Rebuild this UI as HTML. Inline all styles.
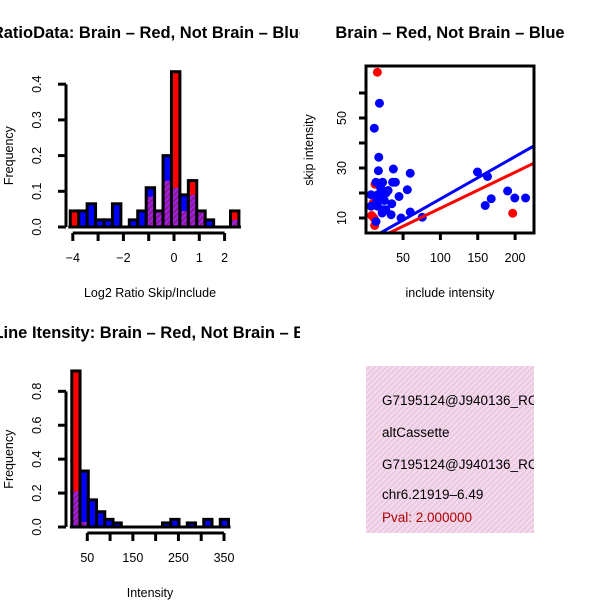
<!DOCTYPE html>
<html><head><meta charset="utf-8"><style>
body{margin:0;background:#fff;width:600px;height:600px;overflow:hidden}
svg{font-family:"Liberation Sans",sans-serif}
</style></head><body>
<svg id="s" width="600" height="600" xmlns="http://www.w3.org/2000/svg">
<defs>
<pattern id="purp" width="4" height="4" patternUnits="userSpaceOnUse" patternTransform="rotate(45)"><rect width="4" height="4" fill="#a020f0"/><rect width="2" height="4" fill="#8b1a8b"/></pattern>
<pattern id="pink" width="4" height="4" patternUnits="userSpaceOnUse" patternTransform="rotate(45)"><rect width="4" height="4" fill="#fad4f4"/><rect width="1.2" height="4" fill="#d8ccc8"/></pattern>
<clipPath id="sc"><rect x="366" y="66" width="168" height="167"/></clipPath>
<clipPath id="left"><rect x="0" y="0" width="300" height="600"/></clipPath>
<clipPath id="bx"><rect x="366" y="366" width="168" height="167"/></clipPath>
</defs>
<g font-weight="bold" font-size="16.5">
<g clip-path="url(#left)">
<text x="150" y="38" text-anchor="middle">RatioData: Brain – Red, Not Brain – Blue</text>
<text x="329" y="338" text-anchor="end">Junction Line Itensity: Brain – Red, Not Brain – Blue</text>
</g>
<text x="450" y="38" text-anchor="middle">Brain – Red, Not Brain – Blue</text>
</g>
<g id="h1"></g>
<g id="h2"></g>
<g id="sp"></g>
<g>
<rect x="366" y="366" width="168" height="167" fill="url(#pink)"/>
<g font-size="13.5" clip-path="url(#bx)">
<text x="382" y="405">G7195124@J940136_RC</text>
<text x="382" y="437">altCassette</text>
<text x="382" y="469">G7195124@J940136_RC</text>
<text x="382" y="499">chr6.21919–6.49</text>
<text x="382" y="522" fill="#b00000">Pval: 2.000000</text>
</g></g>
</svg>
<script>
// Ratio histogram data
const h1Red=[0.045,0,0,0,0,0,0,0,0,0.085,0.045,0.13,0.435,0.045,0.13,0.045,0,0,0,0.045];
const h1Blue=[0,0.045,0.065,0.02,0.02,0.065,0,0.02,0.045,0.11,0.045,0.2,0.11,0.09,0.09,0.045,0.02,0,0,0.02];
const h1XTicks=[-4,-3,-2,-1,0,1,2];
const h1XLabels=["−4","","−2","","0","1","2"];
const h1YTicks=[0,0.1,0.2,0.3,0.4];
// Intensity histogram data
const h2Red=[0.92,0.03,0,0,0,0,0,0,0,0,0,0,0,0,0,0,0,0,0.01];
const h2Blue=[0.21,0.33,0.16,0.09,0.045,0.024,0,0,0,0,0,0.024,0.045,0,0.024,0,0.045,0,0.045];
const h2XTicks=[50,100,150,200,250,300,350];
const h2XLabels=["50","","150","","250","","350"];
const h2YTicks=[0,0.2,0.4,0.6,0.8];
// Scatter data
const redX=[15.6,196.8,12.5,10,11,12,8];
const redY=[68.3,11.9,23.5,16,10,7,11];
const blueX=[18.4,11.5,17.5,17,37,59.6,13.8,22.7,36,39.7,7.2,16.1,20.6,27.3,44.6,55.7,34.9,7.2,16,24,27,34,47.4,59.6,75.7,13.8,149.6,163,160,168,190,199.6,214,20,15,25,30,22];
const blueY=[55.9,45.9,34.3,28.9,29.6,27.9,24.3,24.3,24.3,24.3,19.3,19.3,20,20,18.6,21.3,15.7,14.7,14.7,13.3,13.3,11.3,10,12.4,10.3,8.6,28.4,26.6,15,17.7,20.8,18,18,22,17,17,21,12];
const blueFit=[0.68,0.1694];
const redFit=[-0.5,0.144];
const spXTicks=[50,100,150,200];
const spXLabels=["50","100","150","200"];
const spYTicks=[10,20,30,40,50,60];
const spYLabels=["10","","30","","50",""];

const NS="http://www.w3.org/2000/svg";
function mk(p,t,a){const e=document.createElementNS(NS,t);for(const k in a)e.setAttribute(k,a[k]);p.appendChild(e);return e;}

function hist(g,red,blue,x0,bw,xs,ys,base,xT,xL,yT,axY,xlab,cx){
  for(let i=0;i<red.length;i++){
    const r=red[i],b=blue[i],m=Math.max(r,b);
    if(m<=0)continue;
    const xa=xs(x0+i*bw),xb=xs(x0+(i+1)*bw);
    if(r>b){const e=mk(g,'rect',{x:xa,y:ys(r),width:xb-xa,height:ys(0)-ys(r),fill:'#f00'});
      }
    else{const e=mk(g,'rect',{x:xa,y:ys(b),width:xb-xa,height:ys(0)-ys(b),fill:'#00f'});
      }
    const mn=Math.min(r,b);
    if(mn>0){const e=mk(g,'rect',{x:xa,y:ys(mn),width:xb-xa,height:ys(0)-ys(mn),fill:'url(#purp)'});
      }
    const o=mk(g,'rect',{x:xa,y:ys(m),width:xb-xa,height:ys(0)-ys(m),fill:'none',stroke:'#000','stroke-width':3});
    
  }
  mk(g,'line',{x1:xs(x0)-2,x2:xs(x0+red.length*bw)+2,y1:ys(0),y2:ys(0),stroke:'#000','stroke-width':3});
  const xa=mk(g,'g',{});
  mk(xa,'line',{x1:xs(xT[0]),x2:xs(xT[xT.length-1]),y1:base,y2:base,stroke:'#000','stroke-width':3});
  xT.forEach((t,i)=>{mk(xa,'line',{x1:xs(t),x2:xs(t),y1:base,y2:base+8,stroke:'#000','stroke-width':3});
    if(xL[i]){const e=mk(xa,'text',{x:xs(t),y:base+29,'text-anchor':'middle','font-size':12.5});e.textContent=xL[i];
    }});
  const xl=mk(g,'text',{x:cx,y:base+64,'text-anchor':'middle','font-size':12.5});xl.textContent=xlab;
  
  const ya=mk(g,'g',{});
  mk(ya,'line',{x1:axY,x2:axY,y1:ys(yT[0]),y2:ys(yT[yT.length-1]),stroke:'#000','stroke-width':3});
  yT.forEach(t=>{mk(ya,'line',{x1:axY-8,x2:axY,y1:ys(t),y2:ys(t),stroke:'#000','stroke-width':3});
    const e=mk(ya,'text',{x:axY-25,y:ys(t),'text-anchor':'middle','font-size':12.5,transform:`rotate(-90 ${axY-25} ${ys(t)})`});
    e.textContent=t.toFixed(1);});
  const mid=(ys(yT[0])+ys(yT[yT.length-1]))/2;
  const yl=mk(g,'text',{x:13,y:mid,'text-anchor':'middle','font-size':12.5,transform:`rotate(-90 13 ${mid})`});yl.textContent='Frequency';
  
}
const g1=document.getElementById('h1');
hist(g1,h1Red,h1Blue,-4.1,1/3,v=>174+v*25.3,v=>227-v*357,233,h1XTicks,h1XLabels,h1YTicks,66,'Log2 Ratio Skip/Include',150);
const g2=document.getElementById('h2');
hist(g2,h2Red,h2Blue,16,18.1,v=>64.5+v*0.4557,v=>527-v*169.6,533,h2XTicks,h2XLabels,h2YTicks,66,'Intensity',150);

const sp=document.getElementById('sp');
const sx=v=>365.7+v*0.747, sy=v=>243-v*2.5;
const pts=mk(sp,'g',{});
redX.forEach((x,i)=>{const c=mk(pts,'circle',{cx:sx(x),cy:sy(redY[i]),r:4.5,fill:'#f00'});
  });
blueX.forEach((x,i)=>{const c=mk(pts,'circle',{cx:sx(x),cy:sy(blueY[i]),r:4.5,fill:'#00f'});
  });
const cl=mk(sp,'g',{'clip-path':'url(#sc)'});
[[blueFit,'#00f','blue-fit-line'],[redFit,'#f00','red-fit-line']].forEach(([f,c,n])=>{
  const l=mk(cl,'line',{x1:sx(0),y1:sy(f[0]),x2:sx(230),y2:sy(f[0]+f[1]*230),stroke:c,'stroke-width':3});
  });
mk(sp,'rect',{x:366,y:66,width:168,height:167,fill:'none',stroke:'#000','stroke-width':3});
spXTicks.forEach((t,i)=>{mk(sp,'line',{x1:sx(t),x2:sx(t),y1:233,y2:240,stroke:'#000','stroke-width':3});
  const e=mk(sp,'text',{x:sx(t),y:262,'text-anchor':'middle','font-size':12.5});e.textContent=spXLabels[i];
  });
spYTicks.forEach((t,i)=>{mk(sp,'line',{x1:359,x2:366,y1:sy(t),y2:sy(t),stroke:'#000','stroke-width':3});
  if(spYLabels[i]){const e=mk(sp,'text',{x:346,y:sy(t),'text-anchor':'middle','font-size':12.5,transform:`rotate(-90 346 ${sy(t)})`});
  e.textContent=spYLabels[i];}});
const sxl=mk(sp,'text',{x:450,y:297,'text-anchor':'middle','font-size':12.5});sxl.textContent='include intensity';

const syl=mk(sp,'text',{x:313,y:150,'text-anchor':'middle','font-size':12.5,transform:'rotate(-90 313 150)'});syl.textContent='skip intensity';

</script>
</body></html>
